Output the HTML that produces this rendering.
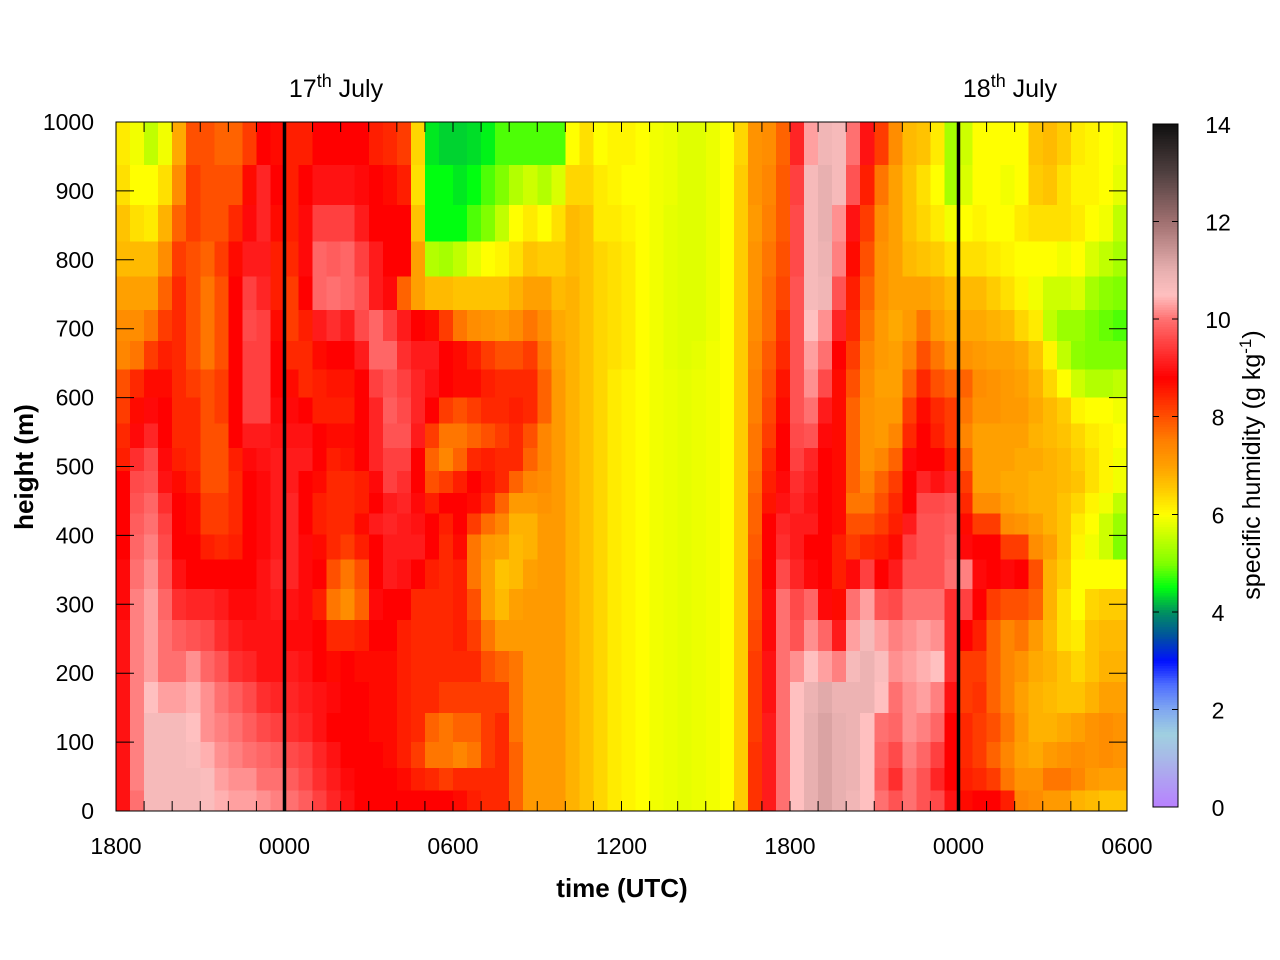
<!DOCTYPE html>
<html><head><meta charset="utf-8"><style>
body{margin:0;background:#fff;}
svg{display:block;font-family:"Liberation Sans",sans-serif;}
</style></head><body>
<svg id="chart" width="1280" height="960" viewBox="0 0 1280 960" xmlns="http://www.w3.org/2000/svg">
<rect x="0" y="0" width="1280" height="960" fill="#fff"/>
<g id="cells" shape-rendering="crispEdges"></g>
<g id="cbar" shape-rendering="crispEdges"></g>
<g id="axes"></g>
<text x="622" y="897" font-size="26" font-weight="bold" text-anchor="middle">time (UTC)</text>
<text transform="translate(33,467) rotate(-90)" font-size="26" font-weight="bold" text-anchor="middle">height (m)</text>
<text transform="translate(1260,465) rotate(-90)" font-size="25" text-anchor="middle">specific humidity (g kg<tspan baseline-shift="super" font-size="17">-1</tspan>)</text>
<text x="336" y="97" font-size="25" text-anchor="middle">17<tspan baseline-shift="super" font-size="18">th</tspan> July</text>
<text x="1010" y="97" font-size="25" text-anchor="middle">18<tspan baseline-shift="super" font-size="18">th</tspan> July</text>
</svg>
<script>
// hours since 1800 (start of each half-hour column)
const timeHours = [0,0.5,1,1.5,2,2.5,3,3.5,4,4.5,5,5.5,6,6.5,7,7.5,8,8.5,9,9.5,10,10.5,11,11.5,12,12.5,13,13.5,14,14.5,15,15.5,16,16.5,17,17.5,18,18.5,19,19.5,20,20.5,21,21.5,22,22.5,23,23.5,24,24.5,25,25.5,26,26.5,27,27.5,28,28.5,29,29.5,30,30.5,31,31.5,32,32.5,33,33.5,34,34.5,35,35.5];
// height level centres (m), top to bottom
const heightLevels = [968,907,852,801,751,704,661,620,581,544,510,477,446,417,385,345,300,255,210,165,120,80,45,15];
const xTickLabels = ["1800","0000","0600","1200","1800","0000","0600"];
const xTickHours = [0,6,12,18,24,30,36];
const yTickValues = [0,100,200,300,400,500,600,700,800,900,1000];
const cbarTicks = [0,2,4,6,8,10,12,14];
const dayLineHours = [6,30];
// specific humidity g/kg, rows follow heightLevels, columns follow timeHours
const humidity = [
[6.2,5.9,5.5,5.9,6.9,8.0,8.0,7.8,7.8,8.2,8.8,8.7,8.5,8.5,8.8,8.8,8.8,8.8,8.5,8.4,8.2,6.4,4.4,4.3, 4.3,4.35,4.45,4.8,4.8,4.8,4.8,4.8,6.0,6.3,6.0,6.1,6.1,6.0,5.9,5.85,5.75,5.75,5.85,6.0,6.4,7.2,7.3,7.8, 9.2,10.3,10.8,10.7,10.0,9.0,8.2,7.3,6.7,6.6,6.2,5.3,5.6,6.0,6.0,6.0,6.0,6.6,6.7,6.5,6.2,6.1,6.0,5.9],
[6.3,6.0,6.0,6.3,7.3,8.2,8.0,8.0,8.0,8.7,9.2,8.8,8.5,8.8,9.0,9.0,9.0,8.9,8.8,8.7,8.5,6.3,4.5,4.5, 4.4,4.5,4.8,5.0,5.4,5.6,5.4,5.7,6.4,6.4,6.2,6.1,6.0,6.0,5.9,5.85,5.75,5.75,5.85,6.0,6.5,7.2,7.4,7.9, 9.5,10.7,11.0,10.7,9.7,8.5,7.6,7.0,6.6,6.3,6.0,5.3,5.7,6.0,6.0,5.9,6.0,6.5,6.6,6.3,6.1,6.1,6.0,5.8],
[6.6,6.3,6.2,6.8,7.8,8.2,8.0,8.0,8.4,8.9,9.2,8.7,8.5,8.9,9.5,9.5,9.5,9.1,8.8,8.8,8.8,6.6,4.5,4.5, 4.5,4.8,5.0,5.5,6.0,6.2,6.0,6.3,6.7,6.6,6.2,6.2,6.1,6.0,5.9,5.8,5.75,5.75,5.85,6.0,6.5,7.1,7.5,7.9, 9.6,10.7,11.0,10.2,9.0,8.2,7.3,7.0,6.6,6.4,6.2,5.9,6.0,6.1,6.0,6.0,6.2,6.3,6.3,6.3,6.2,6.0,5.9,5.5],
[6.7,6.7,6.7,7.3,8.2,8.0,7.8,8.2,8.7,9.1,9.1,8.5,8.4,8.9,9.9,9.8,9.9,9.5,9.1,8.8,8.8,7.0,5.4,5.3, 5.5,5.8,6.0,6.1,6.3,6.6,6.5,6.5,6.7,6.6,6.4,6.3,6.2,6.0,5.9,5.8,5.75,5.75,5.85,6.0,6.5,7.2,7.6,8.0, 9.6,10.7,10.9,10.1,8.7,8.0,7.2,7.0,6.7,6.6,6.5,6.3,6.3,6.3,6.2,6.1,6.0,6.0,6.0,5.9,6.0,5.7,5.5,5.3],
[7.0,7.0,7.0,7.8,8.4,8.0,7.6,8.0,8.8,9.5,9.2,8.5,8.2,8.8,9.9,10.0,9.9,9.7,9.1,8.9,7.8,7.0,6.7,6.7, 6.6,6.6,6.6,6.6,6.8,7.0,7.0,6.7,6.8,6.6,6.4,6.3,6.2,6.0,5.9,5.8,5.75,5.75,5.85,6.0,6.5,7.2,7.7,8.1, 9.7,10.7,10.8,9.7,8.5,7.8,7.2,7.0,7.0,7.0,6.9,6.7,6.7,6.7,6.5,6.3,6.1,5.9,5.6,5.6,5.7,5.3,5.1,5.0],
[7.3,7.3,7.6,8.2,8.4,8.0,7.6,8.0,8.8,9.6,9.5,8.7,8.2,8.5,9.1,9.3,9.1,9.6,9.9,9.5,9.1,8.8,8.7,8.2, 7.6,7.3,7.2,7.1,7.3,7.6,7.3,6.9,6.8,6.6,6.4,6.3,6.2,6.0,5.9,5.8,5.75,5.75,5.85,6.0,6.5,7.3,7.7,8.3, 9.7,10.5,10.2,9.2,8.4,7.6,7.1,6.9,7.1,7.6,7.1,6.9,6.9,6.9,6.8,6.7,6.4,6.2,5.5,5.2,5.2,5.0,4.9,4.8],
[7.4,7.6,8.2,8.5,8.4,8.0,7.6,8.0,8.8,9.5,9.5,8.8,8.4,8.4,8.7,8.8,8.8,9.1,9.9,9.9,9.3,9.1,9.1,8.8, 8.7,8.5,8.2,8.0,8.0,8.2,7.6,7.0,6.8,6.6,6.4,6.3,6.2,6.0,5.9,5.8,5.75,5.8,5.9,6.0,6.5,7.4,7.9,8.4, 9.7,10.3,10.0,8.8,8.2,7.4,7.1,7.0,7.4,8.0,7.6,7.2,7.2,7.1,7.0,7.0,6.9,6.6,6.1,5.5,5.1,5.0,5.0,5.0],
[8.0,8.4,8.7,8.7,8.4,8.2,8.0,8.2,8.8,9.5,9.5,8.8,8.7,8.4,8.5,8.6,8.6,8.8,9.5,9.7,9.5,9.2,9.0,8.8, 8.7,8.7,8.5,8.4,8.4,8.4,7.8,7.1,6.8,6.6,6.4,6.2,6.1,6.0,5.9,5.85,5.8,5.85,5.9,6.0,6.5,7.5,8.0,8.6, 9.7,10.2,9.6,8.7,8.0,7.3,7.0,7.0,7.8,8.4,8.0,7.8,7.8,7.3,7.2,7.1,7.0,6.8,6.4,6.0,5.6,5.4,5.4,5.5],
[8.2,8.7,8.9,8.8,8.4,8.4,8.0,8.2,8.8,9.5,9.5,8.9,8.9,8.8,8.5,8.5,8.5,8.8,9.2,9.8,9.6,9.2,8.8,8.2, 8.0,8.2,8.4,8.4,8.5,8.4,7.8,7.1,6.8,6.6,6.4,6.2,6.1,6.0,5.9,5.85,5.8,5.85,5.9,6.0,6.5,7.5,8.1,8.7, 9.7,10.0,9.1,8.7,7.8,7.2,7.1,7.1,8.2,8.7,8.4,8.2,7.6,7.2,7.2,7.1,7.1,6.9,6.7,6.5,6.1,6.0,6.0,5.9],
[8.4,8.9,9.2,8.8,8.4,8.4,8.0,8.0,8.8,9.1,9.1,9.0,9.0,9.0,8.8,8.7,8.7,8.8,9.2,9.7,9.7,9.1,8.2,7.6, 7.6,7.8,8.0,8.2,8.4,8.0,7.4,7.1,6.8,6.6,6.4,6.2,6.1,6.0,5.9,5.85,5.8,5.85,5.9,6.0,6.5,7.6,8.2,8.8, 9.6,9.7,8.9,8.7,7.8,7.2,7.1,7.4,8.4,8.8,8.5,8.2,7.4,7.0,7.0,7.0,7.0,6.8,6.7,6.6,6.4,6.2,6.1,6.0],
[8.5,9.3,9.6,8.9,8.5,8.4,8.0,8.0,8.5,8.9,9.0,9.1,9.1,9.1,8.8,8.5,8.6,8.8,9.2,9.5,9.5,8.8,7.8,7.4, 7.8,8.4,8.5,8.4,8.4,7.8,7.4,7.1,6.8,6.6,6.4,6.2,6.1,6.0,5.9,5.85,5.8,5.85,5.9,6.0,6.5,7.6,8.4,8.8, 9.5,9.2,8.8,8.7,7.8,7.2,7.4,7.8,8.9,8.8,8.8,8.5,7.8,7.0,7.0,7.0,6.9,6.9,6.8,6.7,6.5,6.3,6.1,5.9],
[8.8,9.6,9.7,9.0,8.7,8.5,8.0,8.0,8.4,8.8,8.9,9.1,9.1,8.8,8.7,8.4,8.4,8.5,8.9,9.5,9.3,8.8,8.0,8.2, 8.5,8.8,8.6,8.4,7.8,7.4,7.3,7.1,6.8,6.6,6.4,6.2,6.1,6.0,5.9,5.85,5.8,5.85,5.9,6.0,6.5,7.7,8.5,8.9, 9.3,9.1,8.8,8.7,7.8,7.4,7.8,8.2,8.8,9.2,9.0,9.2,8.2,7.0,7.0,6.9,6.9,6.8,6.8,6.7,6.6,6.3,6.1,5.9],
[8.8,9.7,9.9,9.3,8.8,8.7,8.2,8.2,8.4,8.8,8.9,9.1,9.2,8.8,8.5,8.4,8.4,8.5,8.8,9.1,9.2,8.9,8.5,8.8, 8.8,8.7,8.4,7.8,7.1,7.1,7.2,7.1,6.8,6.6,6.4,6.2,6.1,6.0,5.9,5.85,5.8,5.85,5.9,6.0,6.5,7.8,8.6,9.0, 9.2,9.0,8.8,8.7,7.6,7.6,8.0,8.4,8.8,9.6,9.6,9.7,8.4,7.3,7.3,7.0,6.9,6.8,6.8,6.6,6.4,6.1,5.9,5.5],
[8.8,9.8,10.0,9.5,8.8,8.7,8.2,8.2,8.4,8.8,8.9,9.1,9.2,8.8,8.5,8.4,8.4,8.7,9.1,9.2,9.1,9.0,8.8,8.5, 8.8,8.2,7.7,7.4,6.8,6.8,7.1,7.1,6.8,6.6,6.4,6.2,6.1,6.0,5.9,5.85,5.8,5.85,5.9,6.0,6.5,7.8,8.8,9.2, 9.1,9.1,8.8,8.7,8.0,8.0,8.2,8.5,9.1,9.7,9.7,9.8,8.7,8.2,8.2,7.3,7.2,7.0,6.8,6.6,6.2,6.0,5.6,5.2],
[8.8,9.9,10.1,9.6,8.8,8.8,8.5,8.4,8.5,8.8,8.9,9.1,9.2,8.9,8.7,8.4,8.2,8.5,8.8,9.1,9.1,9.1,8.8,8.4, 8.7,7.6,7.1,7.0,6.7,6.8,7.1,7.1,6.8,6.6,6.4,6.2,6.1,6.0,5.9,5.85,5.8,5.85,5.9,6.0,6.5,7.9,8.8,9.3, 9.1,8.8,8.8,8.5,8.2,8.4,8.5,8.7,9.5,9.7,9.7,9.9,8.9,8.8,8.8,8.2,8.2,7.3,7.0,6.6,6.1,5.9,5.6,5.0],
[8.9,10.0,10.2,9.7,9.0,8.8,8.8,8.8,8.8,8.8,9.0,9.2,9.2,8.9,8.8,8.0,7.6,8.0,8.8,9.1,9.0,8.8,8.5,8.4, 8.5,7.6,7.0,6.6,6.7,7.0,7.1,7.1,6.8,6.6,6.4,6.2,6.1,6.0,5.9,5.85,5.8,5.85,5.9,6.0,6.5,8.0,8.8,9.6, 9.2,8.9,8.8,8.5,8.9,9.5,8.8,9.1,9.7,9.7,9.7,10.0,10.1,8.9,8.8,8.9,8.8,8.0,6.8,6.5,6.0,6.0,6.0,6.0],
[8.9,10.1,10.3,9.9,9.3,9.2,9.2,9.1,8.9,8.9,9.0,9.1,9.0,8.9,8.5,7.6,7.3,7.8,8.9,8.8,8.8,8.4,8.4,8.4, 8.5,8.0,7.0,6.7,7.0,7.1,7.1,7.1,6.8,6.6,6.4,6.2,6.1,6.0,5.9,5.85,5.8,5.85,5.9,6.0,6.5,8.0,8.9,10.0, 9.6,9.9,8.9,8.7,10.0,10.3,9.7,9.6,10.0,10.0,10.0,9.3,9.5,8.8,8.2,8.0,8.0,7.8,6.8,6.3,6.0,6.4,6.5,6.5],
[9.0,10.1,10.3,10.0,9.8,9.7,9.6,9.3,9.1,9.0,9.0,9.0,8.9,8.9,8.8,8.4,8.4,8.5,8.8,8.8,8.5,8.4,8.4,8.4, 8.5,8.2,7.6,7.1,7.1,7.1,7.1,7.1,6.8,6.6,6.4,6.2,6.1,6.0,5.9,5.85,5.8,5.85,5.9,6.0,6.5,8.1,8.9,10.0, 9.7,10.2,9.9,9.1,10.3,10.7,10.3,10.1,10.2,10.3,10.2,9.3,8.8,8.5,7.8,7.4,7.6,7.1,6.7,6.3,6.2,6.6,6.7,6.7],
[9.0,10.1,10.3,10.0,10.0,10.2,9.9,9.7,9.3,9.2,9.0,9.0,9.1,9.0,8.8,8.7,8.8,8.7,8.7,8.7,8.5,8.4,8.4,8.4, 8.4,8.4,8.0,7.8,7.6,7.1,7.1,7.1,6.8,6.6,6.4,6.2,6.1,6.0,5.9,5.85,5.8,5.85,5.9,6.0,6.5,8.2,9.0,10.0, 10.2,10.5,10.3,10.1,10.7,10.9,10.6,10.2,10.3,10.4,10.5,9.3,8.2,8.2,7.8,7.4,7.2,6.9,6.8,6.6,6.4,6.6,6.8,6.8],
[9.0,10.1,10.5,10.3,10.3,10.4,10.2,10.0,9.8,9.6,9.3,9.2,9.2,9.1,9.0,8.9,8.8,8.8,8.7,8.7,8.5,8.4,8.4,8.2, 8.2,8.2,8.2,8.2,7.6,7.1,7.1,7.1,6.8,6.6,6.4,6.2,6.1,6.0,5.9,5.85,5.8,5.85,5.9,6.0,6.5,8.2,9.0,10.0, 10.5,10.9,11.1,10.9,10.9,10.9,10.5,10.0,10.2,10.3,10.1,9.0,8.2,8.3,7.8,7.4,7.0,6.8,6.7,6.6,6.6,6.8,7.0,7.0],
[9.0,10.1,10.7,10.7,10.7,10.5,10.2,10.1,10.0,9.8,9.6,9.5,9.3,9.2,9.0,8.8,8.8,8.8,8.7,8.7,8.5,8.4,7.8,7.6, 7.8,7.8,8.2,8.4,7.6,7.1,7.1,7.1,6.8,6.6,6.4,6.2,6.1,6.0,5.9,5.85,5.8,5.85,5.9,6.0,6.5,8.2,9.1,10.0, 10.5,11.0,11.2,11.0,10.9,10.5,10.0,9.9,10.2,10.1,9.9,8.8,8.4,8.2,8.0,7.6,7.1,6.8,6.8,6.9,7.0,7.2,7.3,7.2],
[9.0,10.1,10.7,10.7,10.7,10.6,10.4,10.2,10.1,10.0,9.9,9.8,9.6,9.5,9.2,9.0,8.8,8.8,8.8,8.7,8.5,8.2,7.6,7.6, 7.4,7.6,8.2,8.4,7.8,7.1,7.1,7.1,6.8,6.6,6.4,6.2,6.1,6.0,5.9,5.85,5.8,5.85,5.9,6.0,6.5,8.3,9.1,10.0, 10.5,11.0,11.2,11.0,10.9,10.5,9.9,9.6,10.1,9.9,9.5,8.8,8.4,8.2,7.8,7.4,7.0,6.9,7.1,7.2,7.3,7.2,7.3,7.2],
[9.0,10.1,10.7,10.7,10.7,10.7,10.6,10.3,10.2,10.2,10.0,10.0,9.8,9.6,9.3,9.1,8.9,8.8,8.8,8.8,8.7,8.5,8.4,8.2, 8.4,8.4,8.4,8.4,7.8,7.1,7.1,7.1,6.8,6.6,6.4,6.2,6.1,6.0,5.9,5.85,5.8,5.85,5.9,6.0,6.5,8.3,9.1,10.0, 10.5,11.0,11.2,11.0,10.9,10.5,9.8,9.3,10.0,9.7,9.2,8.8,8.5,8.4,8.2,7.6,7.2,7.2,7.6,7.6,7.4,7.1,7.0,7.0],
[9.0,10.0,10.7,10.7,10.7,10.7,10.6,10.4,10.3,10.3,10.2,10.1,10.0,9.8,9.5,9.2,9.0,8.8,8.8,8.8,8.8,8.8,8.8,8.8, 8.7,8.5,8.4,8.4,7.8,7.1,7.1,7.1,6.8,6.6,6.4,6.2,6.1,6.0,5.9,5.85,5.8,5.85,5.9,6.0,6.5,8.3,9.1,10.0, 10.5,11.0,11.2,11.0,10.8,10.5,10.0,9.7,10.0,9.7,9.6,9.0,8.7,8.8,8.8,8.5,7.4,7.3,7.1,7.1,6.8,6.7,6.6,6.6]
];

const NS = "http://www.w3.org/2000/svg";
const PX0 = 116, PX1 = 1127, PY0 = 122, PY1 = 811;
const H_SPAN = 36, Z_MAX = 1000, STEP = 0.5;
function xScale(h){ return PX0 + h / H_SPAN * (PX1 - PX0); }
function yScale(m){ return PY1 - m / Z_MAX * (PY1 - PY0); }

const stops = [
 [0,[184,128,255]],[1,[168,184,232]],[1.5,[160,208,224]],[2,[128,168,240]],[2.5,[80,112,255]],
 [3,[0,16,255]],[3.5,[0,80,160]],[4,[0,144,96]],[4.5,[0,255,16]],[5,[128,255,0]],[5.5,[192,255,0]],
 [6,[255,255,0]],[6.5,[255,204,0]],[7,[255,160,0]],[7.5,[255,128,0]],[8,[255,80,0]],[8.8,[255,0,0]],
 [9.5,[255,64,64]],[10,[255,112,112]],[10.5,[255,192,192]],[11,[232,176,176]],[12,[160,112,112]],
 [13,[80,64,64]],[14,[16,16,16]]
];
function colorOf(v){
  if(v <= stops[0][0]) return "rgb("+stops[0][1].join(",")+")";
  for(let i=1;i<stops.length;i++){
    if(v <= stops[i][0]){
      const a=stops[i-1], b=stops[i], t=(v-a[0])/(b[0]-a[0]);
      const c=a[1].map((ca,k)=>Math.round(ca+(b[1][k]-ca)*t));
      return "rgb("+c.join(",")+")";
    }
  }
  return "rgb("+stops[stops.length-1][1].join(",")+")";
}
function mk(tag, attrs, parent){
  const e=document.createElementNS(NS,tag);
  for(const k in attrs) e.setAttribute(k, attrs[k]);
  parent.appendChild(e); return e;
}

// heatmap cells
const cells = document.getElementById('cells');
const edges = [Z_MAX];
for(let r=0;r<heightLevels.length-1;r++) edges.push((heightLevels[r]+heightLevels[r+1])/2);
edges.push(0);
humidity.forEach((row, r)=>{
  const yT = yScale(edges[r]), yB = yScale(edges[r+1]);
  row.forEach((v, c)=>{
    const xL = xScale(timeHours[c]), xR = xScale(timeHours[c]+STEP);
    const rc = mk('rect',{x:xL.toFixed(2), y:yT.toFixed(2), width:(xR-xL+0.6).toFixed(2), height:(yB-yT+0.6).toFixed(2), fill:colorOf(v)}, cells);
    
    
  });
});

const axes = document.getElementById('axes');
dayLineHours.forEach(h=>{
  const ln = mk('line',{x1:xScale(h), x2:xScale(h), y1:PY0, y2:PY1, stroke:'#000', 'stroke-width':3.5}, axes);
  
  
});
for(let h=0; h<=H_SPAN; h++){
  const x = xScale(h);
  const t1 = mk('line',{x1:x,x2:x,y1:PY1,y2:PY1-10,stroke:'#000','stroke-width':1}, axes);
  
  
  const t2 = mk('line',{x1:x,x2:x,y1:PY0,y2:PY0+10,stroke:'#000','stroke-width':1}, axes);
  
  
}
xTickHours.forEach((h,i)=>{
  const t = mk('text',{x:xScale(h), y:854, 'font-size':23, 'text-anchor':'middle'}, axes);
  t.textContent = xTickLabels[i];
  
  
});
yTickValues.forEach(m=>{
  const y = yScale(m);
  const t1 = mk('line',{x1:PX0,x2:PX0+18,y1:y,y2:y,stroke:'#000','stroke-width':1}, axes);
  
  
  const t2 = mk('line',{x1:PX1-18,x2:PX1,y1:y,y2:y,stroke:'#000','stroke-width':1}, axes);
  
  
  const t = mk('text',{x:94, y:y+8, 'font-size':23, 'text-anchor':'end'}, axes);
  t.textContent = String(m);
  
  
});
const border = mk('rect',{x:PX0,y:PY0,width:PX1-PX0,height:PY1-PY0,fill:'none',stroke:'#000','stroke-width':1}, axes);



// colorbar
const cbar = document.getElementById('cbar');
const CB_X = 1153, CB_W = 25, CB_T = 124, CB_B = 807, CB_MAX = 14;
function cbY(v){ return CB_B - v / CB_MAX * (CB_B - CB_T); }
const NSEG = 280;
for(let i=0;i<NSEG;i++){
  const v0 = i*CB_MAX/NSEG, v1=(i+1)*CB_MAX/NSEG;
  const s = mk('rect',{x:CB_X, y:cbY(v1).toFixed(2), width:CB_W, height:(cbY(v0)-cbY(v1)+0.5).toFixed(2), fill:colorOf((v0+v1)/2)}, cbar);
  
  
}
const cbBorder = mk('rect',{x:CB_X,y:CB_T,width:CB_W,height:CB_B-CB_T,fill:'none',stroke:'#000','stroke-width':1}, cbar);


cbarTicks.forEach(v=>{
  const y=cbY(v);
  const a = mk('line',{x1:CB_X,x2:CB_X+6,y1:y,y2:y,stroke:'#000','stroke-width':1}, cbar);
  
  
  const b = mk('line',{x1:CB_X+CB_W-6,x2:CB_X+CB_W,y1:y,y2:y,stroke:'#000','stroke-width':1}, cbar);
  
  
  const t = mk('text',{x:1218, y:y+9, 'font-size':23, 'text-anchor':'middle'}, cbar);
  t.textContent = String(v);
  
  
});
</script>
</body></html>
